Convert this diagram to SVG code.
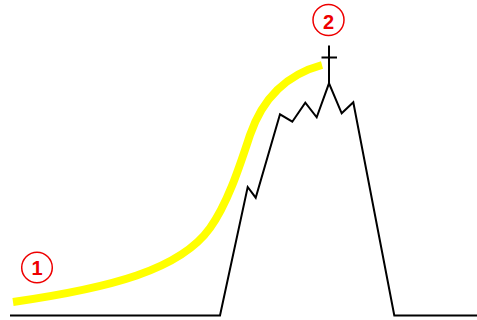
<svg xmlns="http://www.w3.org/2000/svg" width="477" height="320" viewBox="0 0 477 320">
<style>
.mk{fill:#fff;stroke:#e00;stroke-width:1.5}
.mt{fill:#e00;font-family:"Liberation Sans",Arial,sans-serif;font-weight:bold;font-size:20px;text-anchor:middle}
.ln{fill:none;stroke:#000;stroke-width:2;stroke-linejoin:miter}
</style>
<rect width="477" height="320" fill="#fff"/>
<g id="connectors">
<path id="curve" d="M13,302 C110,288 180,270 210,228 C228,203 240,165 250,135 C262,100 285,75 322,65" fill="none" stroke="#ffff00" stroke-width="8"/>
<polyline id="profile" class="ln" points="10,315.5 220,315.5 247.7,187 255.7,197.7 280,114.3 292.3,121.7 305.3,102.7 316.7,117.3 329,83.3 341.7,113.3 353.3,102.3 394.3,315.5 477,315.5"/>
<g id="cross">
<line class="ln" x1="329" y1="45.5" x2="329" y2="84"/>
<line class="ln" x1="321.5" y1="57.5" x2="337" y2="57.5"/>
</g>
</g>
<g id="marker1">
<circle class="mk" cx="37" cy="267.5" r="15.3"/>
<text class="mt" x="37" y="274.5">1</text>
</g>
<g id="marker2">
<circle class="mk" cx="328.5" cy="20" r="15.5"/>
<text class="mt" x="328.5" y="29">2</text>
</g>
</svg>
